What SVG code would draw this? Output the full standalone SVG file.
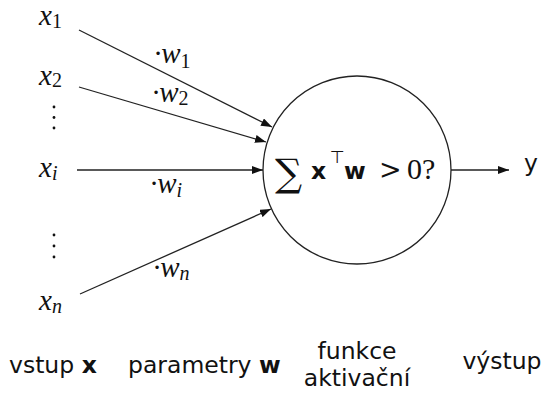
<svg xmlns="http://www.w3.org/2000/svg" width="550" height="394" viewBox="0 0 550 394">
<style>
.m{font-family:"Liberation Serif","DejaVu Serif",serif;font-style:italic;font-size:29px;fill:#111}
.sub{font-size:20px}
.up{font-style:normal}
.s{font-family:"DejaVu Sans","Liberation Sans",sans-serif;font-size:23.5px;fill:#111}
.b{font-weight:bold}
.r{font-family:"Liberation Serif","DejaVu Serif",serif;fill:#111}
.ln{stroke:#222;stroke-width:1.3;fill:none}
.dot{fill:#111}
</style>
<defs>
<marker id="ah" markerUnits="userSpaceOnUse" markerWidth="12" markerHeight="8" refX="11" refY="4" orient="auto">
<path d="M0,0 L11,4 L0,8 Z" fill="#111"/>
</marker>
</defs>
<rect width="550" height="394" fill="#fff"/>
<g id="connectors">
<line class="ln" x1="79" y1="30" x2="272" y2="127" marker-end="url(#ah)"/>
<line class="ln" x1="79" y1="87" x2="266" y2="142" marker-end="url(#ah)"/>
<line class="ln" x1="77" y1="170" x2="263" y2="170" marker-end="url(#ah)"/>
<line class="ln" x1="80" y1="294" x2="271" y2="209" marker-end="url(#ah)"/>
<line class="ln" x1="451" y1="170" x2="509" y2="170" marker-end="url(#ah)"/>
<text class="m" x="154" y="63">·w<tspan class="sub up" dy="5">1</tspan></text>
<text class="m" x="152" y="102">·w<tspan class="sub up" dy="3">2</tspan></text>
<text class="m" x="150" y="193">·w<tspan class="sub" dy="4">i</tspan></text>
<text class="m" x="153" y="277">·w<tspan class="sub" dy="3">n</tspan></text>
</g>
<g id="x1"><text class="m" x="39" y="25">x<tspan class="sub up" dy="3">1</tspan></text></g>
<g id="x2"><text class="m" x="39" y="85">x<tspan class="sub up" dy="2">2</tspan></text></g>
<g id="vdots1"><circle class="dot" cx="54" cy="107" r="1.4"/><circle class="dot" cx="54" cy="117.5" r="1.4"/><circle class="dot" cx="54" cy="128" r="1.4"/></g>
<g id="xi"><text class="m" x="39" y="177">x<tspan class="sub" dy="3">i</tspan></text></g>
<g id="vdots2"><circle class="dot" cx="54" cy="235" r="1.4"/><circle class="dot" cx="54" cy="246" r="1.4"/><circle class="dot" cx="54" cy="257" r="1.4"/></g>
<g id="xn"><text class="m" x="39" y="310">x<tspan class="sub" dy="3">n</tspan></text></g>
<g id="neuron">
<circle cx="357" cy="170" r="94" fill="none" stroke="#222" stroke-width="1.3"/>
<text x="275" y="186" font-family="DejaVu Serif,serif" font-size="38" fill="#111">∑</text>
<text class="s b" x="311" y="179" font-size="26">x</text>
<text x="330" y="163" font-family="DejaVu Sans,sans-serif" font-size="17" fill="#111">⊤</text>
<text class="s b" x="344" y="179" font-size="27">w</text>
<text x="379" y="179" font-family="DejaVu Serif,serif" font-size="27" fill="#111">&gt;</text>
<text class="r" x="407" y="179" font-size="30">0?</text>
</g>
<g id="y"><text class="s" x="524" y="171" font-size="26">y</text></g>
<g id="labels">
<text class="s" x="9" y="373">vstup <tspan class="b">x</tspan></text>
<text class="s" x="128" y="373">parametry <tspan class="b">w</tspan></text>
<text class="s" x="357" y="359" text-anchor="middle" font-size="22.5">funkce</text>
<text class="s" x="357" y="386" text-anchor="middle" font-size="22.5">aktivační</text>
<text class="s" x="502" y="369" text-anchor="middle">výstup</text>
</g>
</svg>
